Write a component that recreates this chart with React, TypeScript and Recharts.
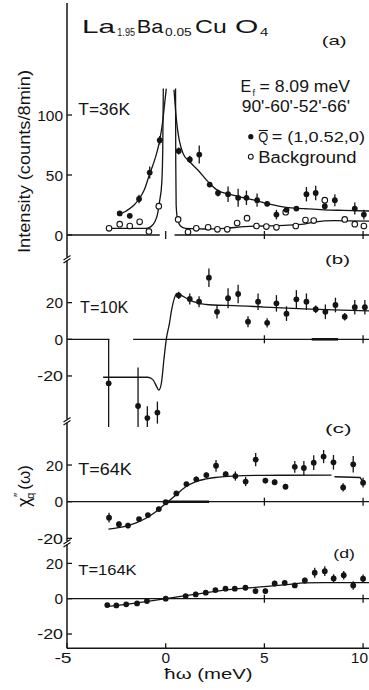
import React from 'react';
import { ComposedChart, Line, Scatter, XAxis, YAxis, ErrorBar } from 'recharts';

const FONT = '"Liberation Sans", Arial, Helvetica, sans-serif';
const INK = '#141414';

const energyDomain: [number, number] = [-5, 10.3];
const energyTicks = [-5, 0, 5, 10];

// ---------- panel (a) T = 36 K ----------
const aTicks = [0, 50, 100];
const aSignal = [
  { x: -2.33, y: 18, e: 2 }, { x: -1.82, y: 16, e: 2 }, { x: -1.35, y: 30, e: 3.5 },
  { x: -0.81, y: 52, e: 5 }, { x: -0.3, y: 79, e: 3.5 }, { x: 0.66, y: 70, e: 3 },
  { x: 1.22, y: 63, e: 3 }, { x: 1.7, y: 67, e: 7.5 }, { x: 2.23, y: 42, e: 2 },
  { x: 2.65, y: 35, e: 3 }, { x: 3.16, y: 34, e: 6.5 }, { x: 3.67, y: 31, e: 7.5 },
  { x: 4.09, y: 31, e: 6 }, { x: 4.63, y: 29, e: 5.5 }, { x: 5.14, y: 26, e: 2 },
  { x: 5.61, y: 17, e: 4 }, { x: 6.12, y: 21, e: 2 }, { x: 6.62, y: 22, e: 2 },
  { x: 7.13, y: 34, e: 6 }, { x: 7.6, y: 35, e: 6 }, { x: 8.06, y: 24, e: 3 },
  { x: 8.57, y: 29, e: 5 }, { x: 9.58, y: 22, e: 5 }, { x: 10.04, y: 17, e: 4 },
];
const aBackground = [
  { x: -2.87, y: 5.6 }, { x: -2.33, y: 9 }, { x: -1.82, y: 7.5 }, { x: -1.32, y: 11 },
  { x: -0.85, y: 3 }, { x: -0.35, y: 24 }, { x: 0.63, y: 13 }, { x: 1.13, y: 2.5 },
  { x: 1.55, y: 5.6 }, { x: 2.15, y: 6.4 }, { x: 2.62, y: 4.7 }, { x: 3.12, y: 4.7 },
  { x: 3.62, y: 10 }, { x: 4.12, y: 14 }, { x: 4.6, y: 7.5 }, { x: 5.1, y: 7 },
  { x: 5.61, y: 6.4 }, { x: 6.08, y: 19 }, { x: 6.59, y: 7.5 }, { x: 7.08, y: 12.5 },
  { x: 7.5, y: 12 }, { x: 8.06, y: 29 }, { x: 9.07, y: 13 }, { x: 9.58, y: 9 },
  { x: 10.04, y: 7.5 },
];
const aSignalFitLeft = [
  { x: -2.41, y: 16.7 }, { x: -2.0, y: 20 }, { x: -1.6, y: 25 }, { x: -1.35, y: 30 },
  { x: -1.1, y: 37 }, { x: -0.81, y: 51 }, { x: -0.55, y: 63 }, { x: -0.3, y: 79 },
  { x: -0.15, y: 95 }, { x: -0.05, y: 110 }, { x: 0.03, y: 122 },
];
const aSignalFitRight = [
  { x: 0.42, y: 121 }, { x: 0.5, y: 104 }, { x: 0.6, y: 88 }, { x: 0.7, y: 78 },
  { x: 0.88, y: 68 }, { x: 1.22, y: 61 }, { x: 1.64, y: 54 }, { x: 2.23, y: 43 },
  { x: 2.65, y: 37 }, { x: 3.2, y: 34 }, { x: 3.7, y: 32 }, { x: 4.5, y: 29 },
  { x: 5.2, y: 26 }, { x: 6.1, y: 23 }, { x: 7.0, y: 22 }, { x: 8.0, y: 21 },
  { x: 9.0, y: 20.5 }, { x: 10.3, y: 20 },
];
const aBgFitLeft = [
  { x: -2.9, y: 5.5 }, { x: -1.0, y: 5.5 }, { x: -0.75, y: 7 }, { x: -0.55, y: 11 },
  { x: -0.42, y: 17 }, { x: -0.3, y: 29 }, { x: -0.2, y: 43 }, { x: -0.15, y: 70 },
  { x: -0.12, y: 122 },
];
const aBgFitRight = [
  { x: 0.5, y: 122 }, { x: 0.51, y: 60 }, { x: 0.53, y: 25 }, { x: 0.6, y: 13 },
  { x: 0.75, y: 7.5 }, { x: 1.0, y: 5.5 }, { x: 2.0, y: 5 }, { x: 3.0, y: 5.5 },
  { x: 4.0, y: 7 }, { x: 5.0, y: 7.5 }, { x: 6.0, y: 8 }, { x: 7.0, y: 9 },
  { x: 7.6, y: 11 }, { x: 8.5, y: 12 }, { x: 10.3, y: 11.5 },
];
const aZeroLeft = [{ x: -5, y: 0 }, { x: -0.3, y: 0 }];
const aZeroRight = [{ x: 0.45, y: 0 }, { x: 10.3, y: 0 }];
const aZeroTicks = [{ x: 0, y: 0 }, { x: 5, y: 0 }, { x: 10, y: 0 }];

// ---------- panel (b) T = 10 K ----------
const bTicks = [-20, 0, 20];
const bPoints = [
  { x: -2.89, y: -24, e: 24 }, { x: -1.4, y: -36.4, e: 21 }, { x: -0.93, y: -43, e: 6.5 },
  { x: -0.42, y: -40, e: 6 }, { x: 0.66, y: 24, e: 2 }, { x: 1.22, y: 22, e: 3 },
  { x: 1.69, y: 20.5, e: 3 }, { x: 2.19, y: 33.6, e: 5 }, { x: 2.6, y: 15, e: 3.6 },
  { x: 3.16, y: 22.4, e: 5.5 }, { x: 3.67, y: 24.7, e: 5 }, { x: 4.17, y: 9.6, e: 3 },
  { x: 4.68, y: 20.5, e: 4.5 }, { x: 5.14, y: 9, e: 2.5 }, { x: 5.61, y: 19.6, e: 4.5 },
  { x: 6.12, y: 14, e: 4 }, { x: 6.62, y: 21.8, e: 5 }, { x: 7.13, y: 20.5, e: 4.5 },
  { x: 7.6, y: 16.4, e: 2 }, { x: 8.09, y: 15, e: 4 }, { x: 8.6, y: 18.7, e: 4 },
  { x: 9.07, y: 12.3, e: 2 }, { x: 9.58, y: 17.5, e: 4 }, { x: 10.09, y: 17.5, e: 4 },
];
const bFit = [
  { x: -3.17, y: -20.7 }, { x: -0.9, y: -20.7 }, { x: -0.65, y: -22 }, { x: -0.45, y: -26 },
  { x: -0.35, y: -27.7 }, { x: -0.22, y: -24 }, { x: -0.09, y: -11 }, { x: 0.03, y: 0 },
  { x: 0.19, y: 8.7 }, { x: 0.3, y: 16 }, { x: 0.46, y: 23 }, { x: 0.57, y: 25 },
  { x: 0.8, y: 24 }, { x: 1.05, y: 22.4 }, { x: 1.4, y: 20.5 }, { x: 1.69, y: 19.6 },
  { x: 2.4, y: 18.7 }, { x: 3.5, y: 18.4 }, { x: 5, y: 17.6 }, { x: 7, y: 16.6 },
  { x: 8.5, y: 16 }, { x: 10.3, y: 15.5 },
];
const bZeroLeft = [{ x: -5, y: 0 }, { x: -2.85, y: 0 }];
const bZeroRight = [{ x: -1.65, y: 0 }, { x: 10.3, y: 0 }];
const bZeroHeavy = [{ x: 7.4, y: 0 }, { x: 8.73, y: 0 }];
const bZeroTicks = [{ x: 5, y: 0 }, { x: 10, y: 0 }];

// ---------- panel (c) T = 64 K ----------
const cTicks = [-20, 0, 20];
const cPoints = [
  { x: -2.87, y: -8.7, e: 2.7 }, { x: -2.37, y: -12.3, e: 1.5 }, { x: -1.91, y: -13, e: 1.5 },
  { x: -1.35, y: -9.5, e: 1.2 }, { x: -0.9, y: -7.3, e: 1.2 }, { x: -0.35, y: -4, e: 1.2 },
  { x: 0, y: -0.3, e: 1.2 }, { x: 0.54, y: 4.5, e: 1.2 }, { x: 1.05, y: 9.6, e: 1.2 },
  { x: 1.55, y: 12.2, e: 1.5 }, { x: 2.06, y: 14.5, e: 1.5 }, { x: 2.55, y: 19.6, e: 3.2 },
  { x: 3.04, y: 15, e: 1.5 }, { x: 3.53, y: 14, e: 2.5 }, { x: 4.05, y: 11, e: 2.5 },
  { x: 4.56, y: 23, e: 3.6 }, { x: 5.05, y: 11.5, e: 1.5 }, { x: 5.52, y: 10.6, e: 1.5 },
  { x: 6.07, y: 8.2, e: 1.5 }, { x: 6.54, y: 19, e: 3.2 }, { x: 7.0, y: 18.4, e: 3.8 },
  { x: 7.5, y: 21.3, e: 4 }, { x: 8.0, y: 24.6, e: 3.6 }, { x: 8.5, y: 21.5, e: 4 },
  { x: 8.99, y: 7.8, e: 2.3 }, { x: 9.5, y: 20.4, e: 4.5 }, { x: 10.0, y: 10.4, e: 2.7 },
];
const cFit = [
  { x: -2.9, y: -15 }, { x: -2.4, y: -14.2 }, { x: -2, y: -13.3 }, { x: -1.5, y: -11.5 },
  { x: -1, y: -9 }, { x: -0.5, y: -5.5 }, { x: 0, y: -1 }, { x: 0.5, y: 3.5 },
  { x: 1, y: 8 }, { x: 1.5, y: 10.8 }, { x: 2, y: 12.3 }, { x: 2.5, y: 13.2 },
  { x: 3, y: 13.7 }, { x: 4, y: 14.2 }, { x: 5, y: 14.4 }, { x: 8.4, y: 14.5 },
];
const cFitTail = [{ x: 8.55, y: 13.6 }, { x: 9.85, y: 13.2 }, { x: 10.0, y: 10.5 }];
const cZero = [{ x: -5, y: 0 }, { x: 10.3, y: 0 }];
const cZeroHeavy = [{ x: 0, y: 0 }, { x: 2.2, y: 0 }];
const cZeroTicks = [{ x: 5, y: 0 }, { x: 10, y: 0 }];

// ---------- panel (d) T = 164 K ----------
const dTicks = [-20, 0, 20];
const dPoints = [
  { x: -2.96, y: -3.6, e: 1 }, { x: -2.5, y: -3.8, e: 1 }, { x: -2.0, y: -3.2, e: 1 },
  { x: -1.45, y: -2.7, e: 1 }, { x: -0.95, y: -1.3, e: 1.2 }, { x: 0, y: 0, e: 1.2 },
  { x: 1.01, y: 1.5, e: 1.2 }, { x: 1.52, y: 2.4, e: 1.5 }, { x: 2.03, y: 3.4, e: 1.2 },
  { x: 2.52, y: 4.9, e: 1.2 }, { x: 3.03, y: 5.7, e: 1.2 }, { x: 3.5, y: 5.7, e: 1.2 },
  { x: 4.04, y: 6.2, e: 1.2 }, { x: 4.55, y: 4.3, e: 1.5 }, { x: 5.05, y: 4.3, e: 1.5 },
  { x: 5.52, y: 8.6, e: 1.5 }, { x: 6.03, y: 9, e: 1.5 }, { x: 6.54, y: 7.5, e: 1.5 },
  { x: 7.05, y: 10.3, e: 1.5 }, { x: 7.55, y: 14.7, e: 2.8 }, { x: 8.06, y: 15.6, e: 2.8 },
  { x: 8.51, y: 11.5, e: 2.4 }, { x: 9.02, y: 13.3, e: 2.4 }, { x: 9.5, y: 7.5, e: 2.4 },
  { x: 10.0, y: 11.3, e: 2.4 },
];
const dFit = [
  { x: -3, y: -4.5 }, { x: -2, y: -3.2 }, { x: -1, y: -1.7 }, { x: 0, y: 0 },
  { x: 1, y: 1.7 }, { x: 2, y: 3.3 }, { x: 3, y: 4.9 }, { x: 4, y: 6 },
  { x: 5, y: 6.8 }, { x: 6, y: 7.8 }, { x: 7.1, y: 9 }, { x: 8, y: 9.1 }, { x: 10.3, y: 9.1 },
];
const dZero = [{ x: -5, y: 0 }, { x: 10.3, y: 0 }];
const dZeroTicks = [{ x: 5, y: 0 }, { x: 10, y: 0 }];

// ---------- marks ----------
const Dot = (p: any) => <circle cx={p.cx} cy={p.cy} r={2.9} fill={INK} />;
const Ring = (p: any) => (
  <circle cx={p.cx} cy={p.cy} r={2.8} fill="#fff" stroke={INK} strokeWidth={1.1} />
);
const TickMark = (p: any) => (
  <line x1={p.cx} x2={p.cx} y1={p.cy - 4} y2={p.cy + 4} stroke={INK} strokeWidth={1.3} />
);

const YTick = (p: any) => {
  const label = String(p.payload.value);
  return (
    <g>
      <line x1={p.x} x2={p.x + 5} y1={p.y} y2={p.y} stroke={INK} strokeWidth={1.3} />
      <text
        x={p.x - 4}
        y={p.y + 5.5}
        textAnchor="end"
        fontSize={14.5}
        fontFamily={FONT}
        fill={INK}
        textLength={label.length * 8.6}
        lengthAdjust="spacingAndGlyphs"
      >
        {label}
      </text>
    </g>
  );
};

const XTick = (p: any) => {
  const v = p.payload.value;
  const label = String(v);
  const w = label.length * 8.6;
  let cx = v < 0 ? p.x - 4 : p.x;
  if (cx + w / 2 > 368) cx = 368 - w / 2;
  return (
    <g>
      <line x1={p.x} x2={p.x} y1={p.y - 5} y2={p.y} stroke={INK} strokeWidth={1.3} />
      <text
        x={cx}
        y={p.y + 15}
        textAnchor="middle"
        fontSize={14.5}
        fontFamily={FONT}
        fill={INK}
        textLength={w}
        lengthAdjust="spacingAndGlyphs"
      >
        {label}
      </text>
    </g>
  );
};

const fit = (data: any[], key: string, type: any = 'monotone', w = 1.3) => (
  <Line
    key={key}
    data={data}
    dataKey="y"
    type={type}
    dot={false}
    activeDot={false}
    stroke={INK}
    strokeWidth={w}
    isAnimationActive={false}
    legendType="none"
  />
);

const ticksOn = (data: any[], key: string) => (
  <Scatter key={key} data={data} dataKey="y" shape={TickMark} isAnimationActive={false} />
);

const points = (data: any[], key: string, shape: any, withErr: boolean) => (
  <Scatter key={key} data={data} dataKey="y" shape={shape} isAnimationActive={false}>
    {withErr ? (
      <ErrorBar dataKey="e" direction="y" width={0} stroke={INK} strokeWidth={1.3} isAnimationActive={false} />
    ) : null}
  </Scatter>
);

const PAD = 6;

function Panel(props: {
  top: number;
  bottom: number;
  y0: number;
  ppu: number;
  ticks: number[];
  frameTop?: boolean;
  axisBottom?: boolean;
  children: any;
}) {
  const { top, bottom, y0, ppu, ticks, frameTop, axisBottom, children } = props;
  const domain: [number, number] = [-(bottom - y0) / ppu, (y0 - top) / ppu];
  const axisH = axisBottom ? 42 : 0;
  const padBottom = axisBottom ? 0 : PAD;
  const h = bottom - top + PAD + axisH + padBottom;
  return (
    <div style={{ position: 'absolute', left: 0, top: top - PAD, width: 369, height: h }}>
      <ComposedChart
        width={369}
        height={h}
        margin={{ top: PAD, right: 0, bottom: padBottom, left: 0 }}
      >
        <XAxis
          dataKey="x"
          type="number"
          domain={energyDomain}
          allowDataOverflow
          ticks={energyTicks}
          orientation={frameTop ? 'top' : 'bottom'}
          hide={!axisBottom && !frameTop}
          height={axisH}
          tick={axisBottom ? XTick : false}
          tickLine={false}
          tickSize={0}
          tickMargin={0}
          axisLine={{ stroke: INK, strokeWidth: 1.5 }}
          interval={0}
        />
        <YAxis
          dataKey="y"
          type="number"
          domain={domain}
          allowDataOverflow
          ticks={ticks}
          width={67}
          tick={YTick}
          tickLine={false}
          tickSize={0}
          tickMargin={0}
          axisLine={{ stroke: INK, strokeWidth: 1.5 }}
          interval={0}
        />
        {children}
      </ComposedChart>
    </div>
  );
}

const T = (p: {
  x: number;
  y: number;
  s: number;
  len?: number;
  anchor?: string;
  children: any;
}) => (
  <text
    x={p.x}
    y={p.y}
    fontSize={p.s}
    fontFamily={FONT}
    fill={INK}
    textAnchor={(p.anchor as any) || 'start'}
    textLength={p.len}
    lengthAdjust={p.len ? 'spacingAndGlyphs' : undefined}
  >
    {p.children}
  </text>
);

const breaks = [259, 421, 543];

export default function App() {
  return (
    <div
      style={{
        position: 'absolute',
        left: 0,
        top: 0,
        width: 369,
        height: 690,
        background: '#fff',
        overflow: 'hidden',
      }}
    >
      <Panel top={3} bottom={259} y0={235} ppu={1.2} ticks={aTicks} frameTop>
        {[
          fit(aZeroLeft, 'az1', 'linear'),
          fit(aZeroRight, 'az2', 'linear'),
          ticksOn(aZeroTicks, 'azt'),
          fit(aBgFitLeft, 'abl'),
          fit(aBgFitRight, 'abr'),
          fit(aSignalFitLeft, 'asl'),
          fit(aSignalFitRight, 'asr'),
          points(aBackground, 'abg', Ring, false),
          points(aSignal, 'asig', Dot, true),
        ]}
      </Panel>
      <Panel top={259} bottom={421} y0={339.3} ppu={1.833} ticks={bTicks}>
        {[
          fit(bZeroLeft, 'bz1', 'linear'),
          fit(bZeroRight, 'bz2', 'linear'),
          fit(bZeroHeavy, 'bz3', 'linear', 2.6),
          ticksOn(bZeroTicks, 'bzt'),
          fit(bFit, 'bf'),
          points(bPoints, 'bp', Dot, true),
        ]}
      </Panel>
      <Panel top={421} bottom={543} y0={501.7} ppu={1.833} ticks={cTicks}>
        {[
          fit(cZero, 'cz', 'linear'),
          fit(cZeroHeavy, 'czh', 'linear', 2.6),
          ticksOn(cZeroTicks, 'czt'),
          fit(cFit, 'cf'),
          fit(cFitTail, 'cft', 'linear'),
          points(cPoints, 'cp', Dot, true),
        ]}
      </Panel>
      <Panel top={543} bottom={648.3} y0={598.7} ppu={1.765} ticks={dTicks} axisBottom>
        {[
          fit(dZero, 'dz', 'linear'),
          ticksOn(dZeroTicks, 'dzt'),
          fit(dFit, 'df'),
          points(dPoints, 'dp', Dot, true),
        ]}
      </Panel>

      <svg
        width={369}
        height={690}
        style={{ position: 'absolute', left: 0, top: 0, pointerEvents: 'none' }}
      >
        {/* axis breaks */}
        {breaks.map((b) => (
          <g key={b}>
            <rect x={64} y={b - 1.5} width={6} height={3} fill="#fff" />
            <line x1={63.5} y1={b + 1} x2={70.5} y2={b - 3.5} stroke={INK} strokeWidth={1.2} />
            <line x1={63.5} y1={b + 4} x2={70.5} y2={b - 0.5} stroke={INK} strokeWidth={1.2} />
          </g>
        ))}

        {/* title */}
        <T x={82} y={33.3} s={18.5} len={33}>La</T>
        <T x={117.3} y={35.5} s={10.5} len={17.7}>1.95</T>
        <T x={136.7} y={33.3} s={18.5} len={26.6}>Ba</T>
        <T x={165} y={35.5} s={10.5} len={26.7}>0.05</T>
        <T x={195} y={33.3} s={18.5} len={31.7}>Cu</T>
        <T x={235} y={33.3} s={18.5} len={23.3}>O</T>
        <T x={260} y={36} s={10.5} len={8.3}>4</T>

        <T x={321.7} y={44.5} s={13} len={25}>(a)</T>

        <T x={240.5} y={91.7} s={16}>E</T>
        <T x={252.5} y={96} s={9}>f</T>
        <T x={259.5} y={91.7} s={17} len={90.5}>= 8.09 meV</T>
        <T x={241.7} y={111.7} s={17} len={108.3}>90'-60'-52'-66'</T>

        <T x={78.3} y={115} s={16} len={51.7}>T=36K</T>

        <circle cx={250.8} cy={136.7} r={2.6} fill={INK} />
        <T x={258.3} y={141.5} s={15} len={10}>Q</T>
        <line x1={258.8} x2={267.8} y1={130.5} y2={130.5} stroke={INK} strokeWidth={1.1} />
        <T x={271.7} y={141.5} s={15} len={93.3}>= (1,0.52,0)</T>
        <circle cx={250.8} cy={156.7} r={2.4} fill="#fff" stroke={INK} strokeWidth={1.1} />
        <T x={258.3} y={163.3} s={16} len={98.3}>Background</T>

        <T x={325} y={264} s={13} len={25}>(b)</T>
        <T x={80} y={313.3} s={16} len={48.3}>T=10K</T>

        <T x={325} y={432.5} s={13} len={26.7}>(c)</T>
        <T x={78.3} y={475} s={16} len={53.4}>T=64K</T>

        <T x={333.3} y={557.5} s={13} len={21.7}>(d)</T>
        <T x={78.3} y={575} s={14.5} len={58.3}>T=164K</T>

        <T x={208.5} y={678.5} s={15} len={88.3} anchor="middle">ħω (meV)</T>

        {/* y axis titles */}
        <text
          transform="translate(30,161.5) rotate(-90)"
          textAnchor="middle"
          fontSize={17}
          fontFamily={FONT}
          fill={INK}
          textLength={183}
          lengthAdjust="spacingAndGlyphs"
        >
          Intensity (counts/8min)
        </text>
        <text
          transform="translate(30,507) rotate(-90)"
          fontSize={18}
          fontFamily={FONT}
          fill={INK}
        >
          χ
          <tspan fontSize={12} dx={0.5} dy={-7}>″</tspan>
          <tspan fontSize={11} dx={-6} dy={11}>q</tspan>
          <tspan fontSize={17} dx={3} dy={-4}>(ω)</tspan>
        </text>
      </svg>
    </div>
  );
}
